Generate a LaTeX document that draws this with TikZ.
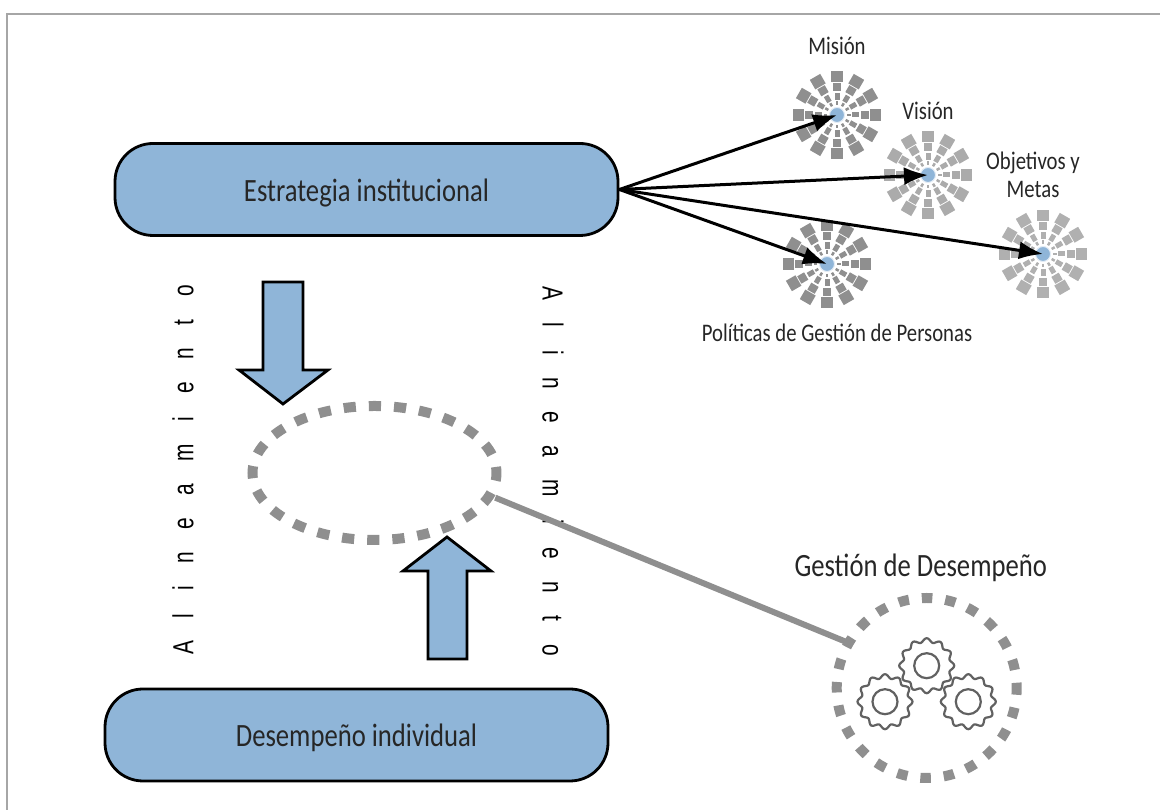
\documentclass[tikz,border=0pt]{standalone}
\usepackage{fontspec}
\usepackage{tikz}
\usetikzlibrary{arrows.meta,shapes.geometric}
\newfontfamily\diagfont[FakeStretch=0.82]{Carlito}
\newfontfamily\alinefont[FakeStretch=0.72,LetterSpace=78]{Liberation Sans}
\definecolor{boxblue}{HTML}{8FB5D8}
\definecolor{dotgray}{HTML}{8F8F8F}

\newcommand{\burst}[4]{%
  \begin{scope}[shift={(#2,#3)}, color=#4]
    \foreach \a in {0,30,...,330} {
      \draw[line width=2.5pt] (\a:10) -- (\a:13.5);
      \draw[line width=5pt] (\a:15) -- (\a:22);
      \draw[line width=8.5pt] (\a:24) -- (\a:32);
      \draw[line width=12pt] (\a:33) -- (\a:44);
    }
  \end{scope}
  \node[core] (#1) at (#2,#3) {};
}
\newcommand{\gear}[2]{%
  \draw[geartooth] plot[smooth, domain=0:357, samples=120] ({#1+(25.5+2*cos(12*\x))*cos(\x)}, {#2+(25.5+2*cos(12*\x))*sin(\x)}) -- cycle;
  \draw[geartooth] (#1,#2) circle (12.5);
}

\begin{document}
\begin{tikzpicture}[x=1pt, y=1pt, node distance=60pt,
  block/.style={draw, fill=boxblue, line width=2.8pt, rounded corners=38pt, minimum width=503pt, minimum height=92pt, text height=30pt, text depth=6pt, text=black!85, font=\diagfont\fontsize{32.5}{36}\selectfont},
  core/.style={circle, draw=white!75!boxblue, fill=boxblue, line width=1pt, minimum size=15pt, inner sep=0pt},
  small/.style={text=black!85, align=center, font=\diagfont\fontsize{25.3}{28}\selectfont},
  bigger/.style={text=black!85, font=\diagfont\fontsize{32.5}{36}\selectfont},
  aline/.style={text=black, font=\alinefont\fontsize{29}{30}\selectfont},
  blockarrow/.style={draw, fill=boxblue, line width=2.8pt, miter limit=6},
  vector/.style={-{Latex[length=24pt, width=18pt]}, line width=3pt, black},
  dotted ring/.style={draw=dotgray, line width=10pt},
  geartooth/.style={draw=black!62, line width=2.2pt}]

  \useasboundingbox (0,0) rectangle (1160,810);

  % Frame
  \draw[color=black!35, line width=2pt] (7,0) -- (7,796) -- (1160,796);

  % Boxes
  \node[block] (estrategia) at (366.5,620.5) {Estrategia institucional};
  \node[block] (desempeno) at (356.5,75) {Desempeño individual};

  % Suns
  \burst{mision}{837}{695}{black!44}
  \burst{vision}{928}{635}{black!33}
  \burst{objetivos}{1043}{556}{black!31}
  \burst{politicas}{827}{546}{black!44}

  % Labels
  \node[small, above of=mision, node distance=69pt] (lmision) {Misión};
  \node[small, above of=vision, node distance=64pt] (lvision) {Visión};
  \node[small, above of=objetivos, node distance=79pt, xshift=-10pt] (lobjetivos) {Objetivos y\\Metas};
  \node[small, below of=politicas, node distance=69pt, xshift=10pt] (lpoliticas) {Políticas de Gestión de Personas};

  % Arrows to suns
  \draw[vector] (estrategia.east) -- (mision.center);
  \draw[vector] (estrategia.east) -- (vision.center);
  \draw[vector] (estrategia.east) -- (objetivos.center);
  \draw[vector] (estrategia.east) -- (politicas.center);

  % Block arrows
  \draw[blockarrow] (263,528) -- (303,528) -- (303,440) -- (328,440) -- (283,406) -- (239,440) -- (263,440) -- cycle;
  \draw[blockarrow] (428,151) -- (467,151) -- (467,239) -- (491,239) -- (447,273) -- (403,239) -- (428,239) -- cycle;

  % Side texts
  \node[aline, rotate=90] (alineleft) at (183,340) {Alineamiento};
  \node[aline, rotate=-90] (alineright) at (553,339) {Alineamiento};

  % Rings
  \node[ellipse, minimum width=244pt, minimum height=134pt, inner sep=0pt] (alineacion) at (374.5,337) {};
  \draw[dotted ring, dash pattern=on 12.2pt off 13pt, dash phase=6.1pt] (alineacion.center) ellipse [x radius=122, y radius=67];
  \node[circle, minimum size=180pt, inner sep=0pt] (gestion) at (926.7,122) {};
  \draw[dotted ring, dash pattern=on 10.5pt off 13pt, dash phase=5.25pt] (gestion.center) circle (90);
  \draw[color=dotgray, line width=6pt, shorten <=6pt] (alineacion.-11) -- (gestion.150);

  \node[bigger, above of=gestion, node distance=120pt, xshift=-6pt] (lgestion) {Gestión de Desempeño};

  % Gears
  \gear{926.7}{144.3}
  \gear{885}{108.3}
  \gear{968.3}{108.3}

\end{tikzpicture}
\end{document}
